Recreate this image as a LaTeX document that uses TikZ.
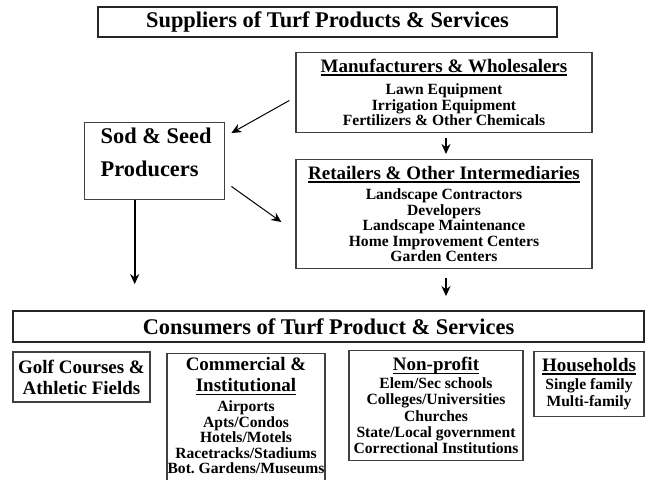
\documentclass[tikz,border=0pt]{standalone}
\usepackage{fontspec}
\setmainfont{Liberation Serif}
\usetikzlibrary{arrows.meta, positioning}

\newcommand{\largefnt}{\fontsize{11.2}{13}\selectfont\bfseries}
\newcommand{\headfnt}{\fontsize{9.5}{10.5}\selectfont\bfseries}
\newcommand{\listfnt}{\fontsize{7.8}{7.75}\selectfont\bfseries}
\newcommand{\hdline}[1]{\setbox0\hbox{#1}\leavevmode\rlap{\rule[-1.8pt]{\wd0}{0.9pt}}\box0}
\lineskiplimit=-100pt

\begin{document}
\begin{tikzpicture}[
						x=0.5pt, y=-0.5pt,
						>={Stealth[length=5pt,width=4.5pt]},
						wide/.style = {draw=black!85, line width=0.9pt, inner sep=0pt, font=\largefnt},
						box/.style = {draw=black!75, line width=0.7pt, inner xsep=0pt, align=flush center, font=\listfnt},
						link/.style = {->, line width=0.5pt},
						flow/.style = {->, line width=0.9pt}
					]
\useasboundingbox (0,0) rectangle (649,479);
\clip (0,0) rectangle (649,479);

% suppliers
\node[wide, minimum width=229.5pt, minimum height=15pt] (supp) at (327.5,22) {Suppliers of Turf Products \& Services};
\node[box, text width=148pt, minimum height=37.5pt] (manuf) at (444,92.5) {{\headfnt\hdline{Manufacturers \& Wholesalers}\par}\vspace{3.25pt}Lawn Equipment\\Irrigation Equipment\\Fertilizers \& Other Chemicals};
\node[box, text width=148pt, minimum height=54pt] (retail) at (444,214) {{\headfnt\hdline{Retailers \& Other Intermediaries}\par}\vspace{2.25pt}Landscape Contractors\\Developers\\Landscape Maintenance\\Home Improvement Centers\\Garden Centers};
\node[box, align=flush left, text width=54pt, inner xsep=8pt, inner ysep=0pt, text height=10.2pt, text depth=28.3pt, anchor=north west, font=\fontsize{11.2}{16.5}\selectfont\bfseries] (sod) at (84,122) {\mbox{Sod \& Seed}\\Producers};

% consumers
\node[wide, minimum width=315.5pt, minimum height=15.5pt] (cons) at (328.5,326.5) {Consumers of Turf Product \& Services};
\node[box, text width=68.5pt, minimum height=25pt, font=\headfnt] (golf) at (81.5,377) {Golf Courses \&\\Athletic Fields};
\node[box, text width=79pt, inner ysep=0pt, text height=8.5pt, text depth=70pt, anchor=north] (comm) at (246,353) {{\headfnt Commercial \&\\\hdline{Institutional}\par}\vspace{2.25pt}Airports\\Apts/Condos\\Hotels/Motels\\Racetracks/Stadiums\\\mbox{Bot.\ Gardens/Museums}};
\node[box, text width=87pt, minimum height=52.5pt, font=\fontsize{7.8}{8.1}\selectfont\bfseries] (nonprof) at (436,405.5) {{\headfnt\hdline{Non-profit}\par}\vspace{0.9pt}Elem/Sec schools\\Colleges/Universities\\Churches\\State/Local government\\Correctional Institutions};
\node[box, text width=55pt, minimum height=31pt, font=\fontsize{7.8}{8.5}\selectfont\bfseries] (house) at (589,384) {{\headfnt\hdline{Households}\par}\vspace{0.5pt}Single family\\Multi-family};

\draw[link] ([shift={(-6,8)}]manuf.west) -- ([shift={(6,11)}]sod.north east);
\draw[link] ([shift={(6,-14)}]sod.south east) -- ([shift={(-14,8)}]retail.west);
\draw[flow, shorten >=13pt] ([xshift=-10pt]sod.south) -- ([xshift=-10pt]sod.south |- cons.north);
\draw[flow, shorten <=2.5pt, shorten >=2.5pt] ([xshift=1pt]manuf.south) -- ([xshift=1pt]retail.north);
\draw[flow, shorten <=4.5pt, shorten >=7pt] ([xshift=1pt]retail.south) -- ([xshift=1pt]retail.south |- cons.north);
\end{tikzpicture}
\end{document}
